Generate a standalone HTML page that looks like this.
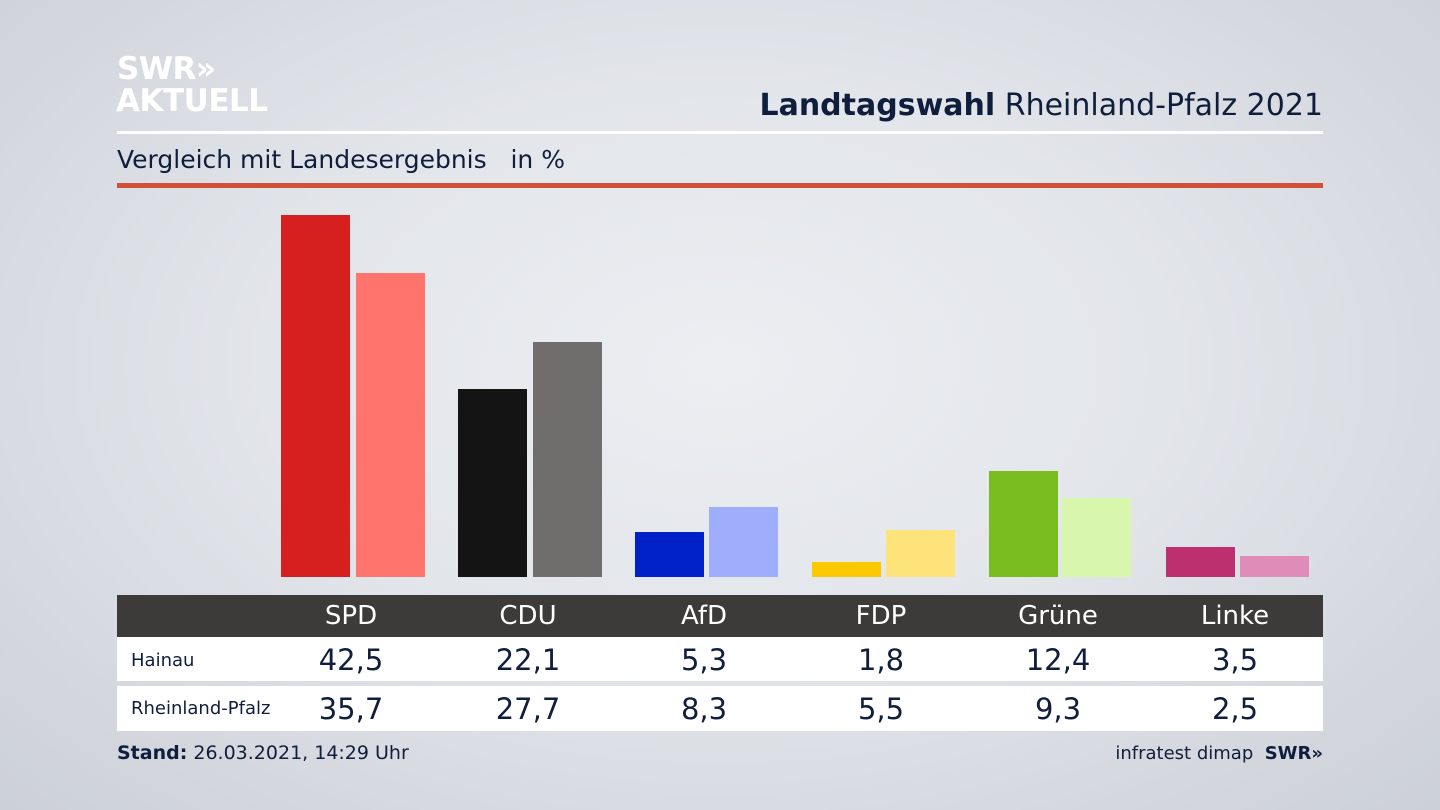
<!DOCTYPE html>
<html><head><meta charset="utf-8"><style>
*{margin:0;padding:0;box-sizing:border-box}
body{width:1440px;height:810px;overflow:hidden;font-family:"DejaVu Sans","Liberation Sans",sans-serif;background:radial-gradient(ellipse at 50% 45%,#eceef2 0%,#e2e5ea 45%,#ccd0d7 100%);position:relative;color:#0f1e3c}
.a{position:absolute}
.logo{color:#fff;font-weight:bold;font-size:31px;line-height:31px;letter-spacing:-0.5px}
.bar{position:absolute;width:69px}
.cell{position:absolute;width:140px;text-align:center}
</style></head><body>
<div class="a logo" style="left:117px;top:54px">SWR&#187;</div>
<div class="a logo" style="left:116px;top:86px">AKTUELL</div>
<div class="a" style="right:117px;top:88px;font-size:30px;white-space:nowrap"><b>Landtagswahl</b> Rheinland-Pfalz 2021</div>
<div class="a" style="left:117px;top:131px;width:1206px;height:3px;background:#fff"></div>
<div class="a" style="left:117px;top:145px;font-size:25px;white-space:nowrap">Vergleich mit Landesergebnis &nbsp; in %</div>
<div class="a" style="left:117px;top:183px;width:1206px;height:5px;background:#d0503a"></div>

<div class="bar" style="left:281px;top:215px;height:362px;background:#d62020"></div>
<div class="bar" style="left:356px;top:273px;height:304px;background:#ff746c"></div>
<div class="bar" style="left:458px;top:389px;height:188px;background:#141414"></div>
<div class="bar" style="left:533px;top:342px;height:235px;background:#706e6c"></div>
<div class="bar" style="left:635px;top:532px;height:45px;background:#0020c8"></div>
<div class="bar" style="left:709px;top:507px;height:70px;background:#9eaefc"></div>
<div class="bar" style="left:812px;top:562px;height:15px;background:#fcc800"></div>
<div class="bar" style="left:886px;top:530px;height:47px;background:#fde37a"></div>
<div class="bar" style="left:989px;top:471px;height:106px;background:#78bc1e"></div>
<div class="bar" style="left:1062px;top:498px;height:79px;background:#d9f7ac"></div>
<div class="bar" style="left:1166px;top:547px;height:30px;background:#bc3070"></div>
<div class="bar" style="left:1240px;top:556px;height:21px;background:#e08cb8"></div>

<div class="a" style="left:117px;top:595px;width:1206px;height:42px;background:#3c3b3a"></div>
<div class="a" style="left:117px;top:637px;width:1206px;height:44px;background:#fff"></div>
<div class="a" style="left:117px;top:686px;width:1206px;height:45px;background:#fff"></div>
<div class="a" style="left:131px;top:650px;font-size:18px">Hainau</div>
<div class="a" style="left:131px;top:698px;font-size:18px">Rheinland-Pfalz</div>

<div style="color:#fff;font-size:26px">
<div class="cell" style="left:281px;top:601px">SPD</div>
<div class="cell" style="left:458px;top:601px">CDU</div>
<div class="cell" style="left:634px;top:601px">AfD</div>
<div class="cell" style="left:811px;top:601px">FDP</div>
<div class="cell" style="left:988px;top:601px">Grüne</div>
<div class="cell" style="left:1165px;top:601px">Linke</div>
</div>
<div style="font-size:29px">
<div class="cell" style="left:281px;top:643px">42,5</div>
<div class="cell" style="left:458px;top:643px">22,1</div>
<div class="cell" style="left:634px;top:643px">5,3</div>
<div class="cell" style="left:811px;top:643px">1,8</div>
<div class="cell" style="left:988px;top:643px">12,4</div>
<div class="cell" style="left:1165px;top:643px">3,5</div>
<div class="cell" style="left:281px;top:692px">35,7</div>
<div class="cell" style="left:458px;top:692px">27,7</div>
<div class="cell" style="left:634px;top:692px">8,3</div>
<div class="cell" style="left:811px;top:692px">5,5</div>
<div class="cell" style="left:988px;top:692px">9,3</div>
<div class="cell" style="left:1165px;top:692px">2,5</div>
</div>
<div class="a" style="left:117px;top:742px;font-size:19px;white-space:nowrap"><b>Stand:</b> 26.03.2021, 14:29 Uhr</div>
<div class="a" style="right:117px;top:743px;font-size:18px;white-space:nowrap">infratest dimap &nbsp;<b>SWR&#187;</b></div>
</body></html>
